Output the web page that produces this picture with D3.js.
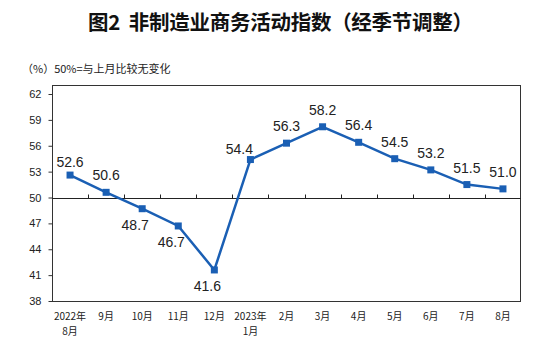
<!DOCTYPE html>
<html><head><meta charset="utf-8">
<script src="https://cdn.jsdelivr.net/npm/d3@7"></script>
<style>body{margin:0;background:#fff}svg{display:block}</style>
</head><body>
<script>
const categories = ["2022年\n8月","9月","10月","11月","12月","2023年\n1月","2月","3月","4月","5月","6月","7月","8月"];
const values = [52.6,50.6,48.7,46.7,41.6,54.4,56.3,58.2,56.4,54.5,53.2,51.5,51.0];
const yTicks = [38,41,44,47,50,53,56,59,62];
const labelSide = ["above","above","below","below","below","above","above","above","above","above","above","above","above"];
const titleText = "图2\u00A0\u00A0非制造业商务活动指数（经季节调整）";
const noteText = "（%）50%=与上月比较无变化";

const W = 548, H = 355;
const L = 52, R = 521, T = 85, B = 301;
const blue = "#1A5FB4";
const cjk = "'Noto Sans CJK SC','Noto Sans',sans-serif";

const svg = d3.select("body").append("svg").attr("width", W).attr("height", H);

const x = d3.scaleBand().domain(categories).range([L, R]);
const y = d3.scaleLinear().domain([38, 63]).range([B, B - 25 * (207 / 24)]);

// title
svg.append("text").attr("x", 88).attr("y", 30).attr("text-anchor", "start")
  .attr("textLength", 385).attr("lengthAdjust", "spacing")
  .style("font-family", cjk).style("font-weight", "bold").style("font-size", "20.5px")
  .attr("fill", "#111").text(titleText);
svg.append("text").attr("x", 22).attr("y", 73)
  .style("font-family", cjk).style("font-size", "11px").attr("fill", "#222").text(noteText);

// frame
svg.append("rect").attr("x", L + 0.5).attr("y", T + 0.5).attr("width", R - L - 1).attr("height", B - T)
  .attr("fill", "none").attr("stroke", "#333").attr("stroke-width", 1);

// y axis
const yAxis = d3.axisLeft(y).tickValues(yTicks).tickSize(4).tickPadding(7);
const gy = svg.append("g").attr("transform", `translate(${L + 0.5},0)`).call(yAxis);
gy.select(".domain").remove();
gy.selectAll(".tick line").attr("stroke", "#333");
gy.selectAll(".tick text").style("font-family", "'Liberation Sans',Arial,sans-serif").style("font-size", "11px").attr("fill", "#222");

// 50 baseline with upward ticks at band boundaries
const y50 = Math.round(y(50)) + 0.5;
svg.append("line").attr("x1", L).attr("x2", R).attr("y1", y50).attr("y2", y50).attr("stroke", "#222").attr("stroke-width", 1);
svg.selectAll(".btick").data(categories.slice(1)).enter().append("line")
  .attr("x1", d => Math.round(x(d)) + 0.5).attr("x2", d => Math.round(x(d)) + 0.5)
  .attr("y1", y50).attr("y2", y50 - 4).attr("stroke", "#222");

// x labels
const gx = svg.append("g");
categories.forEach(c => {
  const lines = c.split("\n");
  const t = gx.append("text").attr("x", x(c) + x.bandwidth() / 2).attr("y", 320)
    .attr("text-anchor", "middle").style("font-family", cjk).style("font-size", "10px").attr("fill", "#222");
  lines.forEach((ln, i) => t.append("tspan").attr("x", x(c) + x.bandwidth() / 2).attr("dy", i === 0 ? 0 : 15).text(ln));
});

// line
const px = (d, i) => x(categories[i]) + x.bandwidth() / 2;
const line = d3.line().x(px).y(d => y(d));
svg.append("path").datum(values).attr("d", line).attr("fill", "none").attr("stroke", blue).attr("stroke-width", 2.5);
svg.selectAll(".pt").data(values).enter().append("rect")
  .attr("x", (d, i) => px(d, i) - 3.5).attr("y", d => y(d) - 3.5).attr("width", 7).attr("height", 7).attr("fill", blue);

// data labels
svg.selectAll(".lbl").data(values).enter().append("text")
  .attr("x", (d, i) => px(d, i) + (i === 5 ? -11 : (labelSide[i] === "below" ? -7 : 0)))
  .attr("y", (d, i) => y(d) + (labelSide[i] === "below" ? 21 : (i === 0 ? -8 : (i === 5 ? -6 : -12))))
  .attr("text-anchor", "middle").style("font-family", "'Liberation Sans',Arial,sans-serif").style("font-size", "14px")
  .attr("fill", "#222").text(d => d.toFixed(1));
</script>
</body></html>
